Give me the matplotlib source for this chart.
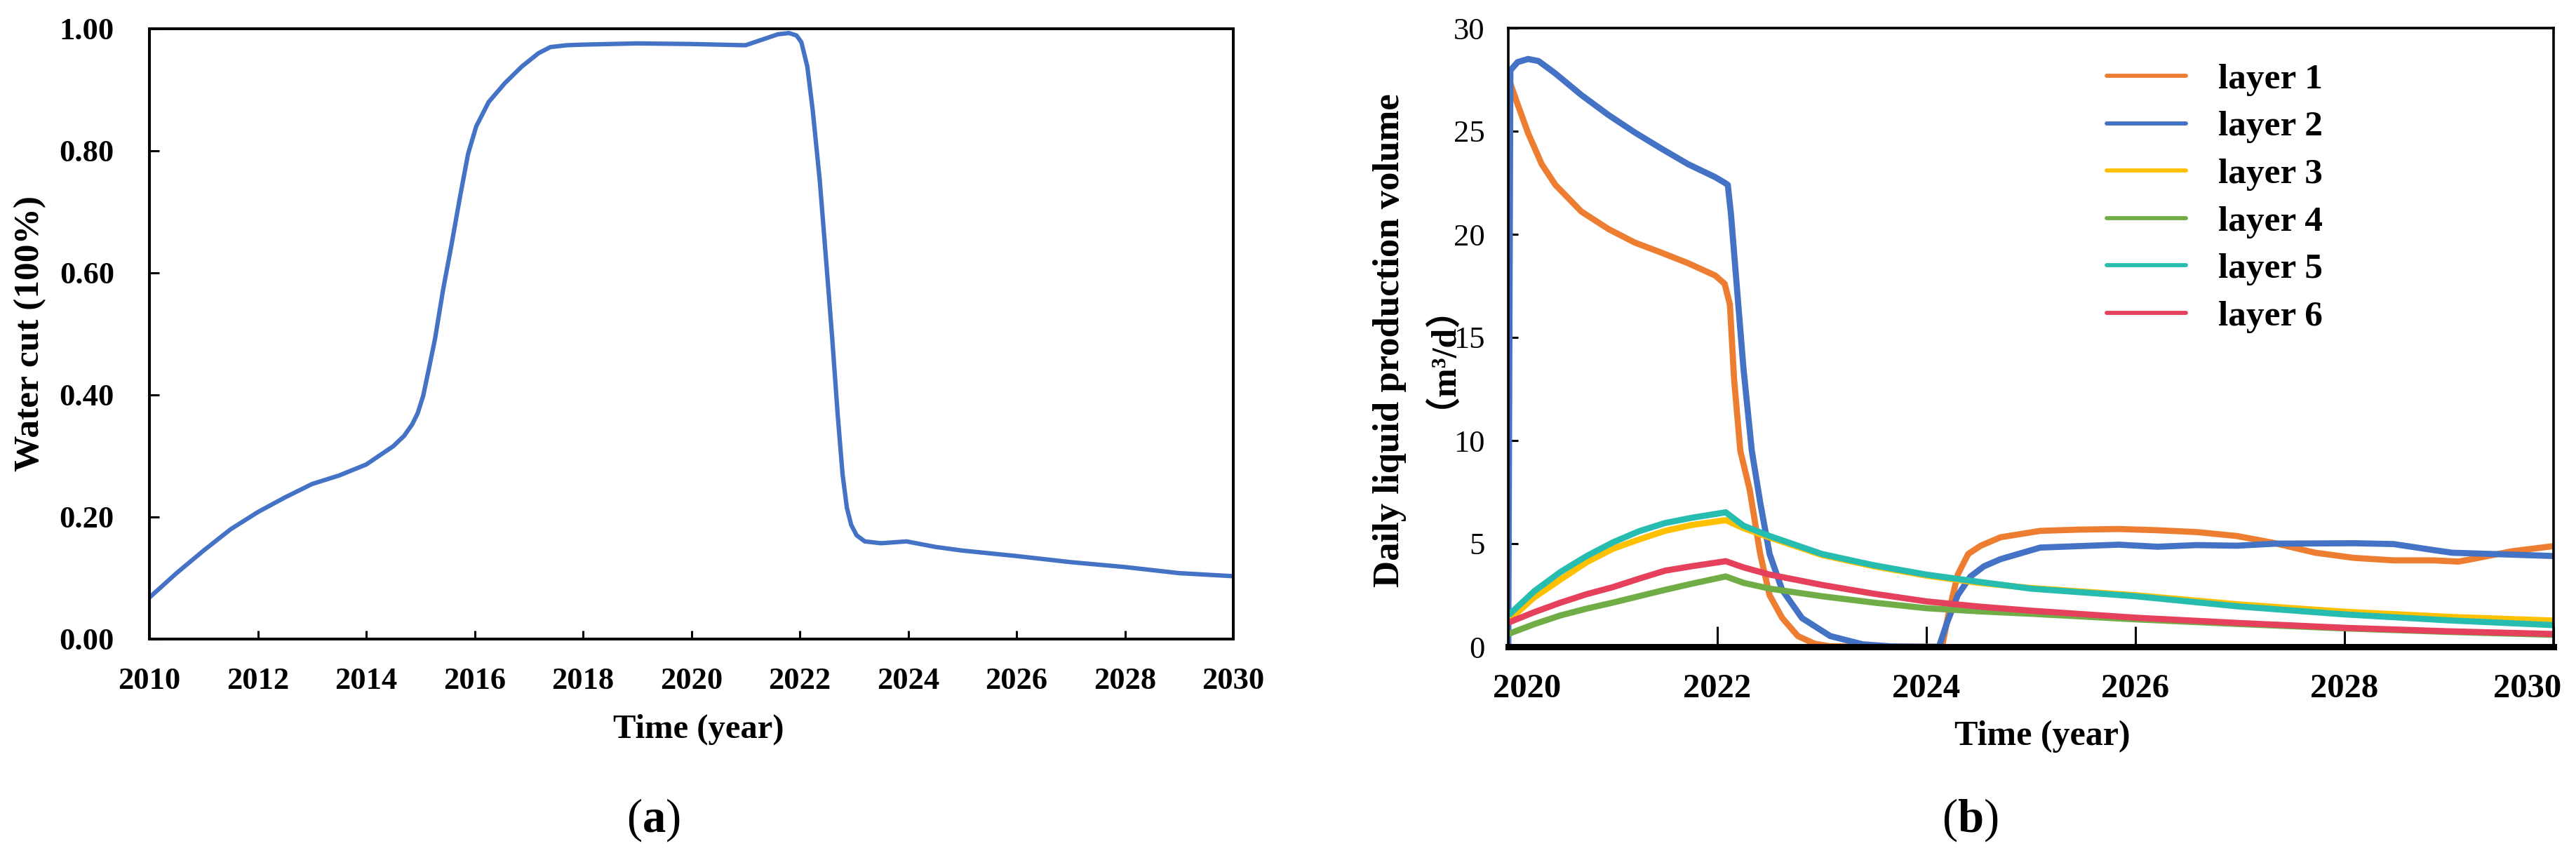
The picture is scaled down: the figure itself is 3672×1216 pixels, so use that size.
import matplotlib
matplotlib.use("Agg")
import matplotlib.pyplot as plt
import matplotlib.transforms as mtransforms

# Fuente tipo Times (Liberation Serif)
plt.rcParams["font.family"] = ["Liberation Serif", "Noto Sans CJK SC"]
plt.rcParams["mathtext.fontset"] = "custom"
plt.rcParams["mathtext.rm"] = "Liberation Serif"
plt.rcParams["mathtext.bf"] = "Liberation Serif:bold"

# ---------------- (a) Water cut ----------------
wc_year = [2010.0, 2010.5, 2011.0, 2011.5, 2012.0, 2012.5, 2013.0, 2013.5, 2014.0,
           2014.5, 2014.7, 2014.85, 2014.95, 2015.05, 2015.15, 2015.27, 2015.42,
           2015.57, 2015.73, 2015.88, 2016.03, 2016.26, 2016.56, 2016.87, 2017.18,
           2017.4, 2017.7, 2018.0, 2019.0, 2020.0, 2021.0, 2021.3, 2021.6, 2021.8,
           2021.94, 2022.03, 2022.14, 2022.24, 2022.37, 2022.49, 2022.6, 2022.7,
           2022.79, 2022.87, 2022.95, 2023.05, 2023.2, 2023.5, 2023.97, 2024.5,
           2025.0, 2026.0, 2027.0, 2028.0, 2029.0, 2030.0]
wc_value = [0.068, 0.108, 0.145, 0.180, 0.208, 0.232, 0.254, 0.268, 0.286,
            0.316, 0.333, 0.352, 0.370, 0.398, 0.440, 0.492, 0.573,
            0.644, 0.724, 0.795, 0.840, 0.880, 0.911, 0.938, 0.960,
            0.970, 0.973, 0.974, 0.976, 0.975, 0.973, 0.982, 0.991, 0.993,
            0.989, 0.978, 0.938, 0.866, 0.751, 0.617, 0.492, 0.368,
            0.270, 0.215, 0.187, 0.170, 0.160, 0.157, 0.160, 0.151,
            0.145, 0.136, 0.126, 0.118, 0.108, 0.103]

# ---------------- (b) Daily liquid production ----------------
layer_names = ["layer 1", "layer 2", "layer 3", "layer 4", "layer 5", "layer 6"]
layer_colors = ["#ED7D31", "#4472C4", "#FFC000", "#70AD47", "#26BDB0", "#E5405C"]

l1_year = [2020.0, 2020.09, 2020.19, 2020.32, 2020.45, 2020.7, 2020.96, 2021.21,
           2021.47, 2021.72, 2021.98, 2022.07, 2022.12, 2022.16, 2022.22, 2022.31,
           2022.41, 2022.5, 2022.62, 2022.77, 2022.93, 2023.08, 2023.5, 2024.0,
           2024.15, 2024.22, 2024.3, 2024.4, 2024.52, 2024.71, 2025.09, 2025.46,
           2025.84, 2026.21, 2026.59, 2026.97, 2027.3, 2027.72, 2028.09, 2028.47,
           2028.85, 2029.09, 2029.22, 2029.6, 2030.0]
l1_value = [27.6, 26.3, 24.9, 23.4, 22.4, 21.1, 20.25, 19.6,
            19.1, 18.6, 18.0, 17.6, 16.6, 13.0, 9.5, 7.6,
            4.5, 2.5, 1.4, 0.52, 0.15, 0.02, 0.0, 0.0,
            0.0, 1.8, 3.5, 4.5, 4.9, 5.31, 5.62, 5.68,
            5.71, 5.65, 5.56, 5.37, 5.06, 4.56, 4.31, 4.19,
            4.19, 4.13, 4.25, 4.63, 4.88]

l2_year = [2020.0, 2020.02, 2020.09, 2020.19, 2020.29, 2020.45, 2020.7, 2020.96,
           2021.21, 2021.47, 2021.72, 2021.98, 2022.07, 2022.1, 2022.13, 2022.25,
           2022.33, 2022.41, 2022.5, 2022.62, 2022.81, 2023.08, 2023.39, 2023.66,
           2024.0, 2024.12, 2024.2, 2024.3, 2024.42, 2024.55, 2024.71, 2025.09,
           2025.46, 2025.84, 2026.21, 2026.59, 2026.97, 2027.34, 2028.09, 2028.47,
           2028.85, 2029.03, 2029.41, 2030.0]
l2_value = [0.0, 27.95, 28.35, 28.5, 28.4, 27.8, 26.75, 25.78,
            24.94, 24.14, 23.4, 22.77, 22.5, 22.4, 21.0, 13.5,
            9.5, 7.0, 4.5, 2.76, 1.39, 0.52, 0.12, 0.02,
            0.0, 0.0, 1.2, 2.5, 3.4, 3.9, 4.25, 4.81,
            4.88, 4.95, 4.85, 4.93, 4.9, 5.0, 5.02, 4.98,
            4.69, 4.56, 4.5, 4.4]

# capas 3-6 comparten el mismo eje de tiempo
mid_year = [2020.0, 2020.25, 2020.5, 2020.75, 2021.0, 2021.25, 2021.5, 2021.75,
            2022.08, 2022.25, 2022.5, 2023.0, 2023.5, 2024.0, 2024.5, 2025.0,
            2026.0, 2027.0, 2028.0, 2029.0, 2030.0]
l3_value = [1.27, 2.4, 3.26, 4.1, 4.75, 5.2, 5.62, 5.9,
            6.14, 5.75, 5.3, 4.45, 3.9, 3.45, 3.1, 2.85,
            2.5, 2.05, 1.7, 1.45, 1.27]
l4_value = [0.62, 1.1, 1.52, 1.85, 2.14, 2.45, 2.76, 3.05,
            3.41, 3.1, 2.82, 2.45, 2.14, 1.87, 1.72, 1.6,
            1.33, 1.1, 0.89, 0.72, 0.58]
l5_value = [1.52, 2.7, 3.63, 4.4, 5.06, 5.6, 6.0, 6.25,
            6.52, 5.87, 5.37, 4.5, 3.95, 3.5, 3.15, 2.82,
            2.45, 1.95, 1.57, 1.28, 1.05]
l6_value = [1.17, 1.68, 2.14, 2.55, 2.89, 3.3, 3.69, 3.9,
            4.15, 3.85, 3.5, 3.0, 2.57, 2.2, 1.95, 1.75,
            1.41, 1.15, 0.92, 0.75, 0.62]

W, H = 3673, 1216
fig = plt.figure(figsize=(W / 100, H / 100), dpi=100)


def shift(label, dx_px):
    # desplaza una etiqueta de eje dx_px pixeles en horizontal
    off = mtransforms.ScaledTranslation(dx_px / 100, 0, fig.dpi_scale_trans)
    label.set_transform(label.get_transform() + off)


# ---- panel (a) ----
ax1 = fig.add_axes([213 / W, 1 - 911 / H, 1545 / W, 870 / H])
ax1.plot(wc_year, wc_value, color="#4472C4", lw=4.5, solid_capstyle="round")
ax1.set_xlim(2010, 2030)
ax1.set_ylim(0, 1)
ax1.set_xticks(range(2010, 2031, 2))
ax1.set_yticks([0, 0.2, 0.4, 0.6, 0.8, 1.0])
ax1.set_yticklabels(["%.2f" % v for v in [0, 0.2, 0.4, 0.6, 0.8, 1.0]])
for s in ax1.spines.values():
    s.set_linewidth(2.9)
ax1.tick_params(axis="y", direction="in", length=10, width=2.2, pad=36, labelsize=32)
ax1.tick_params(axis="x", direction="in", length=9, width=2.2, pad=29, labelsize=32)
for lab in ax1.get_xticklabels() + ax1.get_yticklabels():
    lab.set_fontweight("bold")

fig.text(43 / W, 1 - 475 / H, "Water cut (100%)", rotation=90, ha="center",
         va="center", fontsize=37, fontweight="bold")
fig.text(996 / W, 1 - 1040 / H, "Time (year)", ha="center", va="center",
         fontsize=35, fontweight="bold")
fig.text(931 / W, 1 - 1169 / H, r"$\mathrm{(}\mathbf{a}\mathrm{)}$", ha="center",
         va="center", fontsize=48)

# ---- panel (b) ----
ax2 = fig.add_axes([2150 / W, 1 - 922 / H, 1490 / W, 882 / H])
series_x = [l1_year, l2_year, mid_year, mid_year, mid_year, mid_year]
series_y = [l1_value, l2_value, l3_value, l4_value, l5_value, l6_value]
for xs, ys, name, col in zip(series_x, series_y, layer_names, layer_colors):
    ax2.plot(xs, ys, color=col, lw=6.3, label=name, solid_capstyle="butt")
ax2.set_xlim(2020, 2030)
ax2.set_ylim(0, 30)
ax2.set_xticks(range(2020, 2031, 2))
ax2.set_yticks(range(0, 31, 5))
for side in ["top", "left", "right"]:
    ax2.spines[side].set_linewidth(2.6)
ax2.spines["bottom"].set_linewidth(6.5)
ax2.tick_params(axis="y", direction="in", length=10, width=2.2, pad=24, labelsize=32)
ax2.tick_params(axis="x", direction="in", length=21, width=2.2, pad=27, labelsize=35)
xlabs = ax2.get_xticklabels()
for lab in xlabs:
    lab.set_fontweight("bold")
shift(xlabs[0], 27)
shift(xlabs[-1], -37)

leg = ax2.legend(loc="upper left", bbox_to_anchor=(3003 / W, 1 - 90 / H),
                 bbox_transform=fig.transFigure, frameon=False, borderpad=0,
                 borderaxespad=0, handlelength=2.2, handletextpad=0.9,
                 labelspacing=0.40, prop={"family": "Liberation Serif",
                                          "weight": "bold", "size": 37})
for h in leg.get_lines():
    h.set_linewidth(4.2)
    h.set_solid_capstyle("round")

fig.text(1981 / W, 1 - 485 / H, "Daily liquid production volume",
         rotation=90, ha="center", va="center", fontsize=38, fontweight="bold")
fig.text(2030 / W, 1 - 483 / H, "（m³/d）", rotation=90, ha="center",
         va="center", fontsize=36, fontweight="bold",
         family=["Liberation Serif", "Noto Sans CJK SC"])
fig.text(2911 / W, 1 - 1050 / H, "Time (year)", ha="center", va="center",
         fontsize=36, fontweight="bold")
fig.text(2808 / W, 1 - 1169 / H, r"$\mathrm{(}\mathbf{b}\mathrm{)}$", ha="center",
         va="center", fontsize=48)

fig.savefig("out.png", dpi=100, facecolor="white")
